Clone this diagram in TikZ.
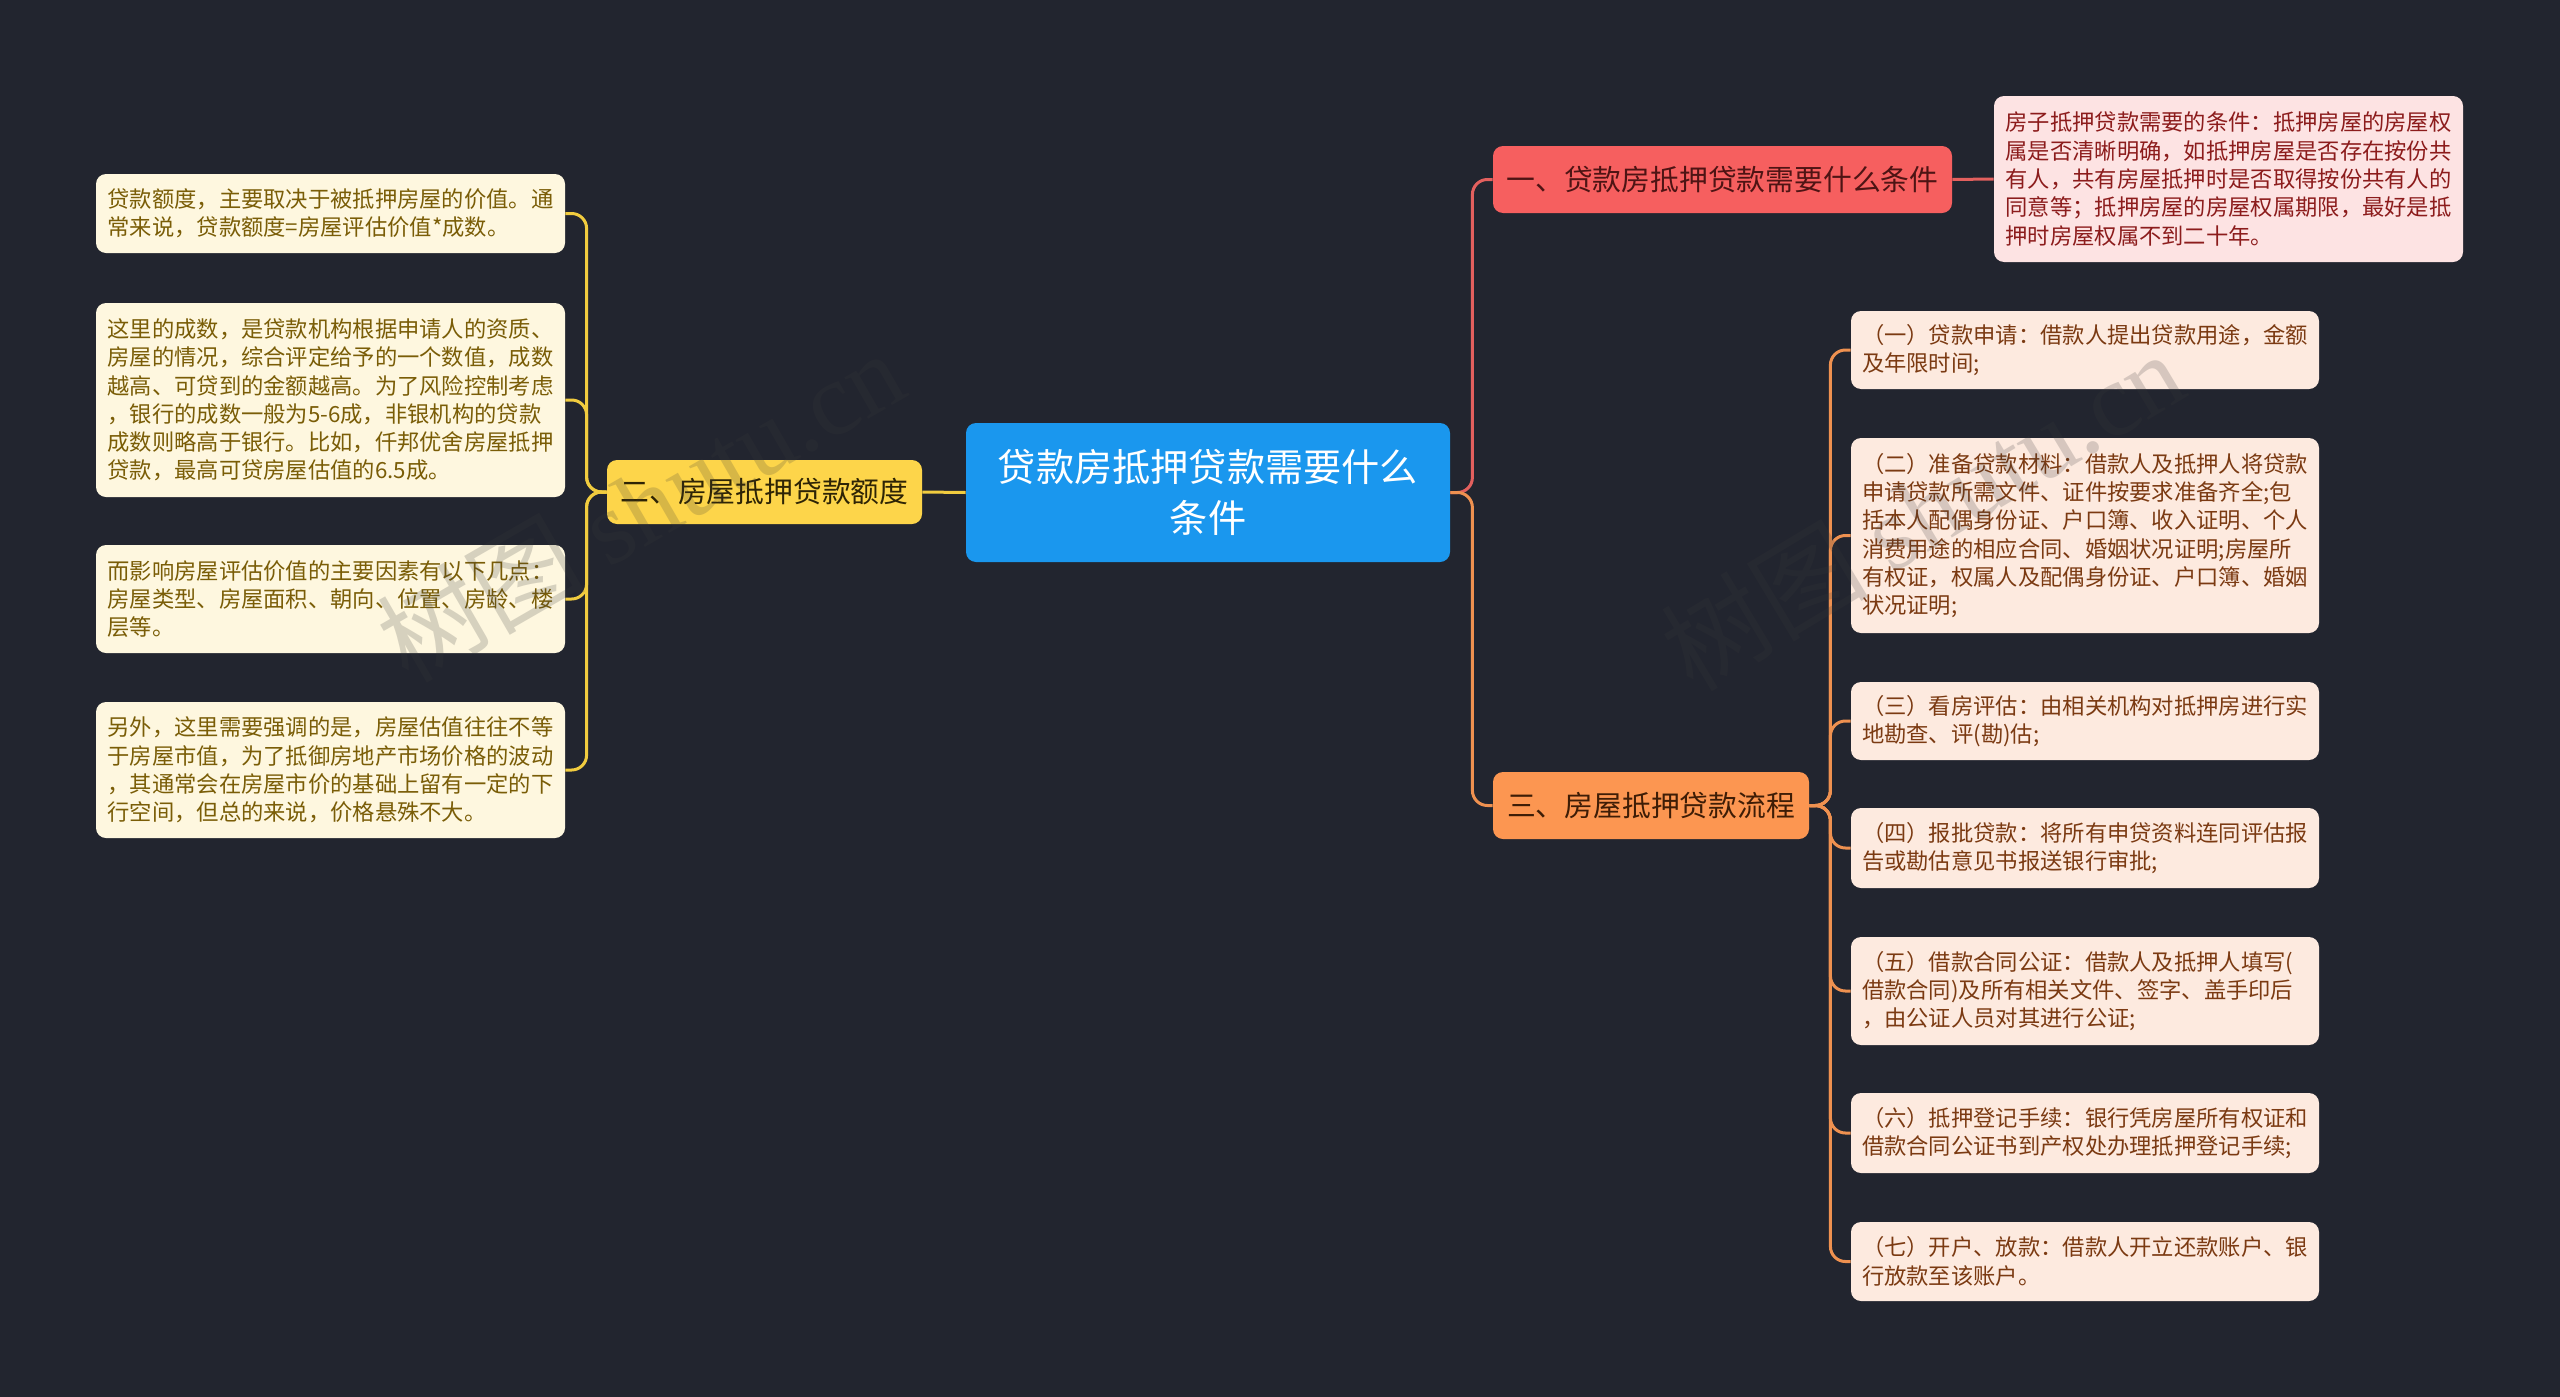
\documentclass[tikz,border=0pt]{standalone}
\usepackage{fontspec}
\setmainfont{Noto Sans CJK SC}
\newfontfamily\wmlatin{Liberation Serif}

\definecolor{bgc}{HTML}{22252F}
\definecolor{centerfill}{HTML}{1A97EE}
\definecolor{yfill}{HTML}{FDD54A}
\definecolor{ytext}{HTML}{2E2405}
\definecolor{rfill}{HTML}{F65F5F}
\definecolor{rtext}{HTML}{4E1414}
\definecolor{ofill}{HTML}{FC9651}
\definecolor{otext}{HTML}{3E1D06}
\definecolor{lfill}{HTML}{FEF7DF}
\definecolor{ltext}{HTML}{7A5D07}
\definecolor{pfill}{HTML}{FDE3E3}
\definecolor{ptext}{HTML}{8C1C1C}
\definecolor{rlfill}{HTML}{FDEADF}
\definecolor{rltext}{HTML}{7B3A12}
\definecolor{lineY}{HTML}{F1CC3F}
\definecolor{lineR}{HTML}{E3605E}
\definecolor{lineO}{HTML}{EF9150}
\definecolor{wmc}{HTML}{3A3A3A}

\tikzset{
  leafbase/.style={rounded corners=5pt, inner sep=0pt, align=left, text width=223pt,
    font=\fontsize{11.15pt}{14.15pt}\selectfont},
  leafL/.style={leafbase, fill=lfill, text=ltext, minimum width=234.5pt},
  leafP/.style={leafbase, fill=pfill, text=ptext, minimum width=234.5pt},
  leafR/.style={leafbase, fill=rlfill, text=rltext, minimum width=234pt},
  branchbox/.style={rounded corners=5pt, inner sep=0pt, align=center, minimum height=33.5pt,
    font=\fontsize{14.4pt}{17pt}\selectfont},
  centerbox/.style={rounded corners=5pt, inner sep=0pt, align=center, fill=centerfill, text=white,
    minimum width=242pt, minimum height=69.5pt, font=\fontsize{19.1pt}{25.3pt}\selectfont},
  conn/.style={line width=1.5pt, rounded corners=7.5pt},
  wm/.style={text=wmc, text opacity=0.2, inner sep=0pt, font=\fontsize{52pt}{60pt}\selectfont},
}

\begin{document}
\begin{tikzpicture}[x=0.5pt, y=-0.5pt]
\useasboundingbox (0,0) rectangle (2560,1397);
\fill[bgc] (0,0) rectangle (2560,1397);

% center
\node[centerbox] (c) at (1208,492.5) {贷款房抵押贷款需要什么\\条件};

% branches
\node[branchbox, fill=yfill, text=ytext, minimum width=157.5pt, minimum height=32pt] (yb) at (764.5,492) {二、房屋抵押贷款额度};
\node[branchbox, fill=rfill, text=rtext, minimum width=229.5pt] (rb) at (1722.5,179.5) {一、贷款房抵押贷款需要什么条件};
\node[branchbox, fill=ofill, text=otext, minimum width=158pt] (ob) at (1651,805.5) {三、房屋抵押贷款流程};

% left leaves
\node[leafL, minimum height=39.5pt] (L1) at (330.5,213.5) {贷款额度，主要取决于被抵押房屋的价值。通\\常来说，贷款额度=房屋评估价值*成数。};
\node[leafL, minimum height=97pt] (L2) at (330.5,400) {这里的成数，是贷款机构根据申请人的资质、\\房屋的情况，综合评定给予的一个数值，成数\\越高、可贷到的金额越高。为了风险控制考虑\\，银行的成数一般为5-6成，非银机构的贷款\\成数则略高于银行。比如，仟邦优舍房屋抵押\\贷款，最高可贷房屋估值的6.5成。};
\node[leafL, minimum height=54pt] (L3) at (330.5,599) {而影响房屋评估价值的主要因素有以下几点：\\房屋类型、房屋面积、朝向、位置、房龄、楼\\层等。};
\node[leafL, minimum height=68pt] (L4) at (330.5,770) {另外，这里需要强调的是，房屋估值往往不等\\于房屋市值，为了抵御房地产市场价格的波动\\，其通常会在房屋市价的基础上留有一定的下\\行空间，但总的来说，价格悬殊不大。};

% pink leaf
\node[leafP, minimum height=83pt] (P1) at (2228.5,179) {房子抵押贷款需要的条件：抵押房屋的房屋权\\属是否清晰明确，如抵押房屋是否存在按份共\\有人，共有房屋抵押时是否取得按份共有人的\\同意等；抵押房屋的房屋权属期限，最好是抵\\押时房屋权属不到二十年。};

% right leaves
\node[leafR, minimum height=39pt] (R1) at (2085,350) {（一）贷款申请：借款人提出贷款用途，金额\\及年限时间;};
\node[leafR, minimum height=97.5pt] (R2) at (2085,535.5) {（二）准备贷款材料：借款人及抵押人将贷款\\申请贷款所需文件、证件按要求准备齐全;包\\括本人配偶身份证、户口簿、收入证明、个人\\消费用途的相应合同、婚姻状况证明;房屋所\\有权证，权属人及配偶身份证、户口簿、婚姻\\状况证明;};
\node[leafR, minimum height=39pt] (R3) at (2085,721) {（三）看房评估：由相关机构对抵押房进行实\\地勘查、评(勘)估;};
\node[leafR, minimum height=40pt] (R4) at (2085,848) {（四）报批贷款：将所有申贷资料连同评估报\\告或勘估意见书报送银行审批;};
\node[leafR, minimum height=54pt] (R5) at (2085,991) {（五）借款合同公证：借款人及抵押人填写(\\借款合同)及所有相关文件、签字、盖手印后\\，由公证人员对其进行公证;};
\node[leafR, minimum height=40pt] (R6) at (2085,1133) {（六）抵押登记手续：银行凭房屋所有权证和\\借款合同公证书到产权处办理抵押登记手续;};
\node[leafR, minimum height=39.5pt] (R7) at (2085,1261.5) {（七）开户、放款：借款人开立还款账户、银\\行放款至该账户。};

% connectors
\draw[conn, lineY] (c.west) -- (yb.east);
\foreach \n in {L1,L2,L3,L4}
  \draw[conn, lineY] (yb.west) -- ++(-20,0) |- (\n.east);
\draw[conn, lineR] (c.east) -- ++(22,0) |- (rb.west);
\draw[conn, lineO] (c.east) -- ++(22,0) |- (ob.west);
\draw[conn, lineR] (rb.east) -- (P1.west);
\foreach \n in {R1,R2,R3,R4,R5,R6,R7}
  \draw[conn, lineO] (ob.east) -- ++(21,0) |- (\n.west);

% watermarks
\node[wm, rotate=30] (wm1) at (640,505) {树图 {\wmlatin shutu.cn}};
\node[wm, rotate=31] (wm2) at (1922,510) {树图 {\wmlatin shutu.cn}};
\end{tikzpicture}
\end{document}
